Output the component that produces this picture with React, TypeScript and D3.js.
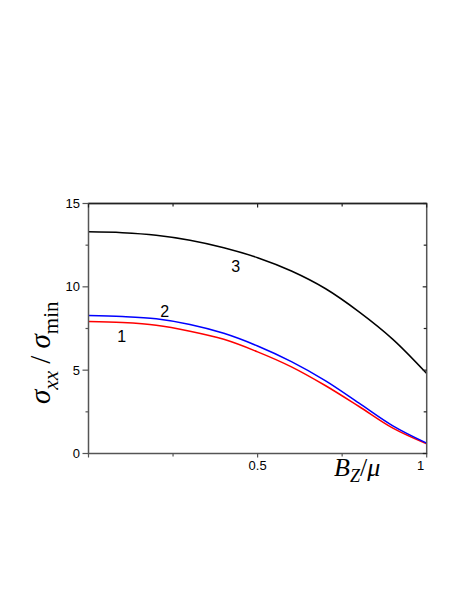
import React from "react";
import * as d3 from "d3";

const bValues = [0, 0.1, 0.2, 0.3, 0.4, 0.5, 0.6, 0.7, 0.8, 0.9, 1.0];
const curve1 = [7.92, 7.86, 7.7, 7.34, 6.85, 6.1, 5.2, 4.08, 2.82, 1.52, 0.58];
const curve2 = [8.28, 8.22, 8.08, 7.74, 7.21, 6.45, 5.51, 4.37, 3.02, 1.66, 0.62];
const curve3 = [13.3, 13.25, 13.1, 12.8, 12.35, 11.75, 10.95, 9.9, 8.5, 6.85, 4.8];
const xTicks = [0, 0.25, 0.5, 0.75, 1];
const xTickLabels = ["", "", "0.5", "", "1"];
const yTicks = [0, 2.5, 5, 7.5, 10, 12.5, 15];
const yTickLabels = ["0", "", "5", "", "10", "", "15"];
const seriesLabels = ["1", "2", "3"];
const labelAt = [
  { b: 0.098, v: 7.0 },
  { b: 0.225, v: 8.5 },
  { b: 0.435, v: 11.2 },
];

const W = 463;
const H = 599;
const left = 88.5;
const right = 426.7;
const top = 203.5;
const bottom = 453.5;

export default function App() {
  const x = d3.scaleLinear().domain([0, 1]).range([left, right]);
  const y = d3.scaleLinear().domain([0, 15]).range([bottom, top]);
  const line = d3
    .line<number>()
    .x((_, i) => x(bValues[i]))
    .y((d) => y(d))
    .curve(d3.curveCatmullRom.alpha(0.5));
  const series = [
    { vals: curve1, color: "#ff0000" },
    { vals: curve2, color: "#0000ff" },
    { vals: curve3, color: "#000000" },
  ];
  const axisColor = "#555";
  const font = "'Liberation Sans', Arial, sans-serif";
  const serif = "'Liberation Serif', 'Times New Roman', serif";
  return (
    <svg width={W} height={H} style={{ position: "absolute", left: 0, top: 0 }}>
      <rect width={W} height={H} fill="#fff" />
      {series.map((s, i) => (
        <path key={i} d={line(s.vals) || ""} fill="none" stroke={s.color} strokeWidth={1.5} />
      ))}
      {/* frame */}
      <rect x={left} y={top} width={right - left} height={bottom - top} fill="none" stroke={axisColor} strokeWidth={1.5} />
      <line x1={left} x2={right} y1={top} y2={top} stroke="#222" strokeWidth={1.5} />
      {/* x ticks */}
      {xTicks.map((t, i) => (
        <g key={"x" + i}>
          <line x1={x(t)} x2={x(t)} y1={bottom} y2={bottom + (i % 2 === 0 ? 4 : 3)} stroke={axisColor} strokeWidth={1.2} />
          <line x1={x(t)} x2={x(t)} y1={top} y2={top + (i % 2 === 0 ? 4 : 3)} stroke="#222" strokeWidth={1.2} />
          {xTickLabels[i] && (
            <text x={t === 1 ? x(t) - 6 : x(t)} y={470} textAnchor="middle" fontFamily={font} fontSize={13} fill="#000">
              {xTickLabels[i]}
            </text>
          )}
        </g>
      ))}
      {/* y ticks */}
      {yTicks.map((t, i) => (
        <g key={"y" + i}>
          <line x1={left} x2={left - (yTickLabels[i] ? 6 : 3)} y1={y(t)} y2={y(t)} stroke={axisColor} strokeWidth={1.2} />
          <line x1={right} x2={right - (yTickLabels[i] ? 4 : 3)} y1={y(t)} y2={y(t)} stroke="#222" strokeWidth={1.2} />
          {yTickLabels[i] && (
            <text x={80} y={y(t) + 4.5} textAnchor="end" fontFamily={font} fontSize={13} fill="#000">
              {yTickLabels[i]}
            </text>
          )}
        </g>
      ))}
      {/* series labels */}
      {seriesLabels.map((l, i) => (
        <text key={"l" + i} x={x(labelAt[i].b)} y={y(labelAt[i].v) + 5.5} textAnchor="middle" fontFamily={font} fontSize={16} fill="#000">
          {l}
        </text>
      ))}
      {/* x axis label */}
      <text x={334} y={476} fontFamily={serif} fontSize={26} fill="#000">
        <tspan fontStyle="italic">B</tspan>
        <tspan fontStyle="italic" fontSize={18} dy={6}>Z</tspan>
        <tspan dy={-6}>/</tspan>
        <tspan fontStyle="italic">μ</tspan>
      </text>
      {/* y axis label */}
      <text transform="translate(50,404) rotate(-90)" fontFamily={serif} fontSize={29} fill="#000">
        <tspan fontStyle="italic">σ</tspan>
        <tspan fontStyle="italic" fontSize={21} dy={8}>xx</tspan>
        <tspan dy={-8}> / </tspan>
        <tspan fontStyle="italic">σ</tspan>
        <tspan fontSize={21} dy={8}>min</tspan>
      </text>
    </svg>
  );
}
